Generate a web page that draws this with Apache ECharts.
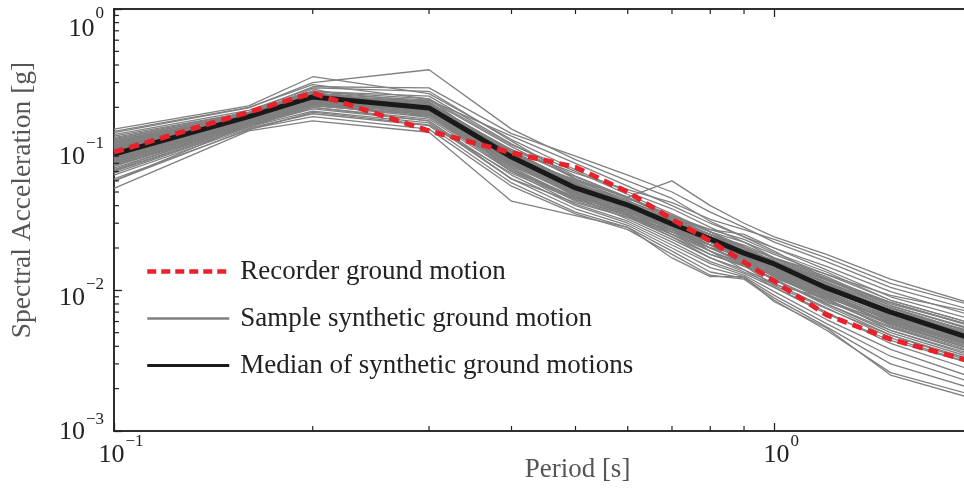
<!DOCTYPE html>
<html>
<head>
<meta charset="utf-8">
<script src="https://cdn.jsdelivr.net/npm/echarts@6/dist/echarts.min.js"></script>
<style>
  html, body { margin: 0; padding: 0; background: #fff; }
  #chart { width: 964px; height: 491px; }
</style>
</head>
<body>
<div id="chart"></div>
<script>
// periods (s)
var periods = [0.1, 0.16, 0.2, 0.3, 0.4, 0.5, 0.6, 0.7, 0.8, 0.9, 1.0, 1.2, 1.5, 2.0];

// recorded ground motion spectrum (g)
var recorded = [0.096, 0.185, 0.253, 0.136, 0.095, 0.075, 0.050, 0.032, 0.0224, 0.0159, 0.0116, 0.0067, 0.0045, 0.0031];

// median of synthetic motions (g)
var median = [0.093, 0.172, 0.237, 0.198, 0.0887, 0.0534, 0.0404, 0.0296, 0.0232, 0.0184, 0.0154, 0.0104, 0.0070, 0.0045];

// sample synthetic motions (g), read from the gray band
var samples = [
  [0.140, 0.205, 0.330, 0.250, 0.118, 0.072, 0.050, 0.038, 0.028, 0.022, 0.018, 0.013, 0.0085, 0.0058],
  [0.132, 0.198, 0.300, 0.370, 0.140, 0.085, 0.060, 0.045, 0.031, 0.024, 0.019, 0.012, 0.0075, 0.0050],
  [0.125, 0.185, 0.280, 0.275, 0.130, 0.090, 0.066, 0.050, 0.036, 0.028, 0.022, 0.016, 0.0105, 0.0072],
  [0.120, 0.180, 0.260, 0.240, 0.110, 0.065, 0.046, 0.060, 0.040, 0.030, 0.024, 0.018, 0.0120, 0.0080],
  [0.115, 0.176, 0.250, 0.225, 0.105, 0.062, 0.045, 0.034, 0.027, 0.025, 0.020, 0.0148, 0.0098, 0.0066],
  [0.110, 0.172, 0.245, 0.215, 0.098, 0.058, 0.043, 0.032, 0.025, 0.020, 0.016, 0.0118, 0.0082, 0.0055],
  [0.106, 0.170, 0.240, 0.205, 0.094, 0.056, 0.041, 0.031, 0.024, 0.019, 0.015, 0.0108, 0.0072, 0.0048],
  [0.102, 0.168, 0.236, 0.200, 0.090, 0.054, 0.040, 0.029, 0.022, 0.0175, 0.0145, 0.0100, 0.0068, 0.0046],
  [0.098, 0.165, 0.232, 0.196, 0.086, 0.052, 0.039, 0.030, 0.023, 0.018, 0.0158, 0.0112, 0.0070, 0.0044],
  [0.095, 0.163, 0.228, 0.190, 0.084, 0.050, 0.038, 0.028, 0.021, 0.017, 0.0140, 0.0095, 0.0062, 0.0041],
  [0.092, 0.160, 0.222, 0.185, 0.080, 0.048, 0.036, 0.027, 0.020, 0.016, 0.0135, 0.0090, 0.0058, 0.0039],
  [0.088, 0.158, 0.218, 0.180, 0.078, 0.047, 0.035, 0.026, 0.019, 0.0155, 0.0128, 0.0085, 0.0055, 0.0036],
  [0.085, 0.155, 0.212, 0.175, 0.075, 0.045, 0.034, 0.025, 0.018, 0.0148, 0.0120, 0.0080, 0.0050, 0.0033],
  [0.082, 0.153, 0.208, 0.170, 0.072, 0.043, 0.033, 0.024, 0.017, 0.014, 0.0112, 0.0075, 0.0046, 0.0030],
  [0.078, 0.150, 0.200, 0.165, 0.070, 0.041, 0.031, 0.022, 0.016, 0.0132, 0.0105, 0.0070, 0.0042, 0.0027],
  [0.074, 0.148, 0.195, 0.160, 0.066, 0.040, 0.030, 0.021, 0.0155, 0.0128, 0.0098, 0.0062, 0.0038, 0.0024],
  [0.070, 0.145, 0.188, 0.155, 0.062, 0.038, 0.029, 0.020, 0.0145, 0.0125, 0.0092, 0.0058, 0.0034, 0.0022],
  [0.066, 0.142, 0.180, 0.148, 0.058, 0.036, 0.028, 0.019, 0.0135, 0.0122, 0.0088, 0.0055, 0.0030, 0.0020],
  [0.060, 0.140, 0.172, 0.140, 0.055, 0.035, 0.027, 0.018, 0.0128, 0.0120, 0.0085, 0.0052, 0.0026, 0.0018],
  [0.053, 0.136, 0.160, 0.133, 0.043, 0.034, 0.028, 0.017, 0.0125, 0.0125, 0.0083, 0.0054, 0.0025, 0.0017],
  [0.135, 0.200, 0.290, 0.230, 0.085, 0.048, 0.034, 0.024, 0.018, 0.015, 0.012, 0.0078, 0.0048, 0.0032],
  [0.060, 0.150, 0.210, 0.225, 0.125, 0.080, 0.055, 0.040, 0.030, 0.024, 0.020, 0.0140, 0.0090, 0.0062],
  [0.072, 0.155, 0.230, 0.210, 0.100, 0.068, 0.052, 0.042, 0.032, 0.027, 0.023, 0.0170, 0.0112, 0.0078],
  [0.118, 0.182, 0.270, 0.180, 0.070, 0.045, 0.037, 0.030, 0.025, 0.021, 0.017, 0.0130, 0.0092, 0.0070],
  [0.100, 0.170, 0.250, 0.195, 0.092, 0.060, 0.044, 0.028, 0.019, 0.014, 0.0105, 0.0068, 0.0044, 0.0030],
  [0.090, 0.162, 0.225, 0.205, 0.096, 0.055, 0.038, 0.033, 0.026, 0.022, 0.0170, 0.0125, 0.0078, 0.0052],
  [0.080, 0.158, 0.215, 0.190, 0.082, 0.052, 0.042, 0.031, 0.022, 0.016, 0.0118, 0.0082, 0.0060, 0.0042],
  [0.112, 0.175, 0.238, 0.170, 0.076, 0.049, 0.035, 0.026, 0.021, 0.019, 0.0165, 0.0120, 0.0080, 0.0056],
  [0.097, 0.166, 0.245, 0.220, 0.088, 0.046, 0.032, 0.023, 0.017, 0.0135, 0.0110, 0.0088, 0.0064, 0.0047],
  [0.086, 0.160, 0.228, 0.185, 0.074, 0.044, 0.039, 0.029, 0.024, 0.020, 0.0150, 0.0098, 0.0056, 0.0037],
  [0.104, 0.172, 0.260, 0.230, 0.108, 0.070, 0.048, 0.035, 0.026, 0.020, 0.0148, 0.0105, 0.0066, 0.0043],
  [0.076, 0.150, 0.205, 0.178, 0.080, 0.050, 0.040, 0.032, 0.027, 0.023, 0.0185, 0.0135, 0.0085, 0.0058],
  [0.128, 0.190, 0.275, 0.260, 0.115, 0.062, 0.042, 0.030, 0.022, 0.017, 0.0130, 0.0088, 0.0052, 0.0034],
  [0.094, 0.164, 0.232, 0.200, 0.094, 0.057, 0.037, 0.025, 0.020, 0.018, 0.0160, 0.0115, 0.0076, 0.0050],
  [0.068, 0.145, 0.200, 0.160, 0.062, 0.042, 0.033, 0.027, 0.021, 0.017, 0.0138, 0.0100, 0.0072, 0.0051],
  [0.108, 0.174, 0.242, 0.188, 0.072, 0.046, 0.036, 0.027, 0.021, 0.0165, 0.0125, 0.0084, 0.0054, 0.0036],
  [0.084, 0.156, 0.220, 0.195, 0.100, 0.064, 0.045, 0.033, 0.023, 0.0175, 0.0135, 0.0094, 0.0061, 0.0040],
  [0.062, 0.138, 0.185, 0.150, 0.068, 0.044, 0.034, 0.026, 0.020, 0.0160, 0.0125, 0.0090, 0.0064, 0.0045],
  [0.116, 0.178, 0.255, 0.205, 0.090, 0.054, 0.041, 0.030, 0.021, 0.0150, 0.0108, 0.0074, 0.0048, 0.0031],
  [0.090, 0.165, 0.235, 0.195, 0.086, 0.051, 0.037, 0.028, 0.022, 0.0185, 0.0150, 0.0110, 0.0072, 0.0049],
  [0.105, 0.168, 0.228, 0.212, 0.092, 0.058, 0.042, 0.030, 0.024, 0.019, 0.0150, 0.0102, 0.0066, 0.0044],
  [0.099, 0.166, 0.240, 0.185, 0.080, 0.049, 0.038, 0.029, 0.023, 0.0190, 0.0162, 0.0118, 0.0078, 0.0053],
  [0.087, 0.160, 0.226, 0.208, 0.096, 0.059, 0.041, 0.028, 0.020, 0.0160, 0.0128, 0.0086, 0.0057, 0.0038],
  [0.113, 0.176, 0.252, 0.196, 0.084, 0.053, 0.040, 0.031, 0.025, 0.0200, 0.0155, 0.0108, 0.0068, 0.0045],
  [0.079, 0.154, 0.214, 0.182, 0.084, 0.054, 0.041, 0.032, 0.024, 0.0185, 0.0145, 0.0098, 0.0065, 0.0044],
  [0.093, 0.163, 0.230, 0.200, 0.088, 0.050, 0.035, 0.026, 0.021, 0.0175, 0.0140, 0.0102, 0.0070, 0.0047],
  [0.101, 0.169, 0.246, 0.210, 0.090, 0.056, 0.043, 0.033, 0.025, 0.0190, 0.0145, 0.0096, 0.0060, 0.0040],
  [0.071, 0.148, 0.206, 0.176, 0.078, 0.049, 0.037, 0.027, 0.020, 0.0160, 0.0130, 0.0093, 0.0063, 0.0043],
  [0.122, 0.184, 0.262, 0.218, 0.095, 0.057, 0.040, 0.029, 0.022, 0.0175, 0.0138, 0.0096, 0.0062, 0.0041],
  [0.089, 0.161, 0.222, 0.190, 0.090, 0.061, 0.046, 0.034, 0.026, 0.0205, 0.0160, 0.0112, 0.0072, 0.0048],
  [0.096, 0.164, 0.234, 0.203, 0.082, 0.047, 0.034, 0.025, 0.019, 0.0150, 0.0122, 0.0090, 0.0062, 0.0042],
  [0.083, 0.157, 0.218, 0.192, 0.086, 0.052, 0.039, 0.030, 0.024, 0.0195, 0.0158, 0.0114, 0.0074, 0.0050],
  [0.107, 0.171, 0.244, 0.198, 0.087, 0.051, 0.038, 0.028, 0.021, 0.0165, 0.0132, 0.0092, 0.0058, 0.0038],
  [0.077, 0.152, 0.210, 0.186, 0.088, 0.055, 0.040, 0.029, 0.022, 0.0172, 0.0142, 0.0104, 0.0070, 0.0048],
  [0.091, 0.162, 0.236, 0.215, 0.098, 0.058, 0.040, 0.028, 0.020, 0.0155, 0.0118, 0.0080, 0.0052, 0.0035],
  [0.103, 0.170, 0.238, 0.192, 0.082, 0.050, 0.039, 0.031, 0.025, 0.0205, 0.0168, 0.0122, 0.0082, 0.0056],
  [0.081, 0.156, 0.224, 0.202, 0.092, 0.054, 0.038, 0.027, 0.021, 0.0170, 0.0136, 0.0095, 0.0061, 0.0041],
  [0.111, 0.174, 0.248, 0.205, 0.093, 0.057, 0.042, 0.030, 0.023, 0.0180, 0.0142, 0.0098, 0.0064, 0.0042],
  [0.097, 0.167, 0.230, 0.188, 0.079, 0.048, 0.036, 0.028, 0.022, 0.0180, 0.0148, 0.0106, 0.0069, 0.0046],
  [0.086, 0.159, 0.220, 0.198, 0.094, 0.056, 0.039, 0.029, 0.022, 0.0168, 0.0130, 0.0090, 0.0059, 0.0040]
];

var xMin = 0.1, xMax = 2.0;
var yMin = 0.001, yMax = 1;

var FONT = '"Liberation Serif", "DejaVu Serif", serif';
var NAME_REC = 'Recorder ground motion';
var NAME_SAMPLE = 'Sample synthetic ground motion';
var NAME_MED = 'Median of synthetic ground motions';

function pairs(ys) {
    return periods.map(function (p, i) { return [p, ys[i]]; });
}

// decade exponent, or null when v is not a power of ten
function decade(v) {
    var e = Math.log(v) / Math.LN10;
    var n = Math.round(e);
    return Math.abs(e - n) > 1e-6 ? null : n;
}
function expText(n) {
    return n < 0 ? '\u2212' + (-n) : String(n);
}

function xLabel(v) {
    var n = decade(v);
    if (n === null) return '';
    return '{b|10}{s|' + expText(n) + '}';
}
// first and last y labels sit a little differently (as in the original)
function yLabel(v) {
    var n = decade(v);
    if (n === null) return '';
    var sfx = '';
    if (Math.abs(v - yMax) < 1e-9) sfx = 't';
    else if (Math.abs(v - yMin) < 1e-9) sfx = 'm';
    return '{b' + sfx + '|10}{s' + sfx + '|' + expText(n) + '}';
}

function baseStyle(pad) {
    return { fontFamily: FONT, fontSize: 26, color: '#222', lineHeight: 26, padding: pad };
}
function supStyle(pad) {
    return { fontFamily: FONT, fontSize: 17, color: '#222', lineHeight: 17, padding: pad };
}

// padding is used to shift base / exponent up and down
var richY = {
    b: baseStyle([16, 0, 0, 0]),
    s: supStyle([0, 0, 12, 1]),
    bt: baseStyle([40, 0, 0, 0]),
    st: supStyle([10, 0, 0, 1]),
    bm: baseStyle([2, 0, 0, 0]),
    sm: supStyle([0, 0, 22, 1])
};
var richX = {
    b: baseStyle([0, 0, 0, 0]),
    s: supStyle([0, 0, 26, 1])
};

var myChart = echarts.init(document.getElementById('chart'), null, { renderer: 'canvas' });

var series = [];
samples.forEach(function (s) {
    series.push({
        name: NAME_SAMPLE,
        type: 'line',
        data: pairs(s),
        symbol: 'none',
        silent: true,
        lineStyle: { color: '#808080', width: 1.3 },
        z: 2
    });
});
series.push({
    name: NAME_MED,
    type: 'line',
    data: pairs(median),
    symbol: 'none',
    lineStyle: { color: '#1a1a1a', width: 5 },
    z: 3
});
series.push({
    name: NAME_REC,
    type: 'line',
    data: pairs(recorded),
    symbol: 'none',
    lineStyle: { color: '#e8212a', width: 5, type: [10, 6] },
    z: 4
});

var option = {
    animation: false,
    backgroundColor: '#fff',
    grid: {
        left: 114,
        top: 9,
        bottom: 60,
        right: -9,
        containLabel: false,
        outerBoundsMode: 'none',
        show: true,
        borderColor: '#222',
        borderWidth: 1.5,
        backgroundColor: 'transparent'
    },
    legend: {
        orient: 'vertical',
        left: 145,
        top: 258,
        padding: 0,
        itemWidth: 82,
        itemHeight: 26,
        itemGap: 20,
        textStyle: { fontFamily: FONT, fontSize: 27, color: '#222', padding: [0, 0, 0, 6] },
        data: [
            { name: NAME_REC, itemStyle: { opacity: 0 }, lineStyle: { width: 4.5, type: [9, 5] } },
            { name: NAME_SAMPLE, itemStyle: { opacity: 0 }, lineStyle: { width: 2.5 } },
            { name: NAME_MED, itemStyle: { opacity: 0 }, lineStyle: { width: 3 } }
        ],
        selectedMode: false
    },
    xAxis: [{
        type: 'log',
        logBase: 10,
        min: xMin,
        max: xMax,
        name: 'Period [s]',
        nameLocation: 'middle',
        nameGap: 25,
        nameMoveOverlap: false,
        nameTextStyle: { fontFamily: FONT, fontSize: 27, color: '#555', padding: [0, 0, 0, 68] },
        axisLine: { show: true, onZero: false, lineStyle: { color: '#222', width: 1.5 } },
        axisTick: { show: true, inside: true, length: 8, lineStyle: { color: '#222', width: 1.3 } },
        axisLabel: { margin: 11, formatter: xLabel, rich: richX, padding: [0, 0, 0, 14] },
        splitLine: { show: false }
    }, {
        type: 'log',
        logBase: 10,
        min: xMin,
        max: xMax,
        position: 'top',
        axisLine: { show: true, onZero: false, lineStyle: { color: '#222', width: 1.5 } },
        axisTick: { show: true, inside: true, length: 8, lineStyle: { color: '#222', width: 1.3 } },
        axisLabel: { show: false },
        splitLine: { show: false }
    }],
    yAxis: {
        type: 'log',
        logBase: 10,
        min: yMin,
        max: yMax,
        name: 'Spectral Acceleration [g]',
        nameLocation: 'middle',
        nameGap: 77,
        nameTextStyle: { fontFamily: FONT, fontSize: 27.5, color: '#555', padding: [0, 0, 0, 40] },
        axisLine: { show: true, lineStyle: { color: '#222', width: 1.5 } },
        axisTick: { show: true, inside: true, length: 8, lineStyle: { color: '#222', width: 1.3 } },
        axisLabel: { margin: 10, formatter: yLabel, rich: richY },
        splitLine: { show: false }
    },
    series: series
};

myChart.setOption(option);

// minor log ticks (2..9 in each decade), placed through the axis scales
var gTop = myChart.convertToPixel({ yAxisIndex: 0 }, yMax);
var gBottom = myChart.convertToPixel({ yAxisIndex: 0 }, yMin);
var gLeft = myChart.convertToPixel({ xAxisIndex: 0 }, xMin);
var minor = [];
for (var d = -3; d < 0; d++) {
    for (var k = 2; k <= 9; k++) {
        var y = myChart.convertToPixel({ yAxisIndex: 0 }, k * Math.pow(10, d));
        minor.push({ type: 'line', silent: true, z: 10,
            shape: { x1: gLeft, y1: y, x2: gLeft + 5, y2: y },
            style: { stroke: '#222', lineWidth: 1.2 } });
    }
}
for (var d2 = -1; d2 <= 0; d2++) {
    for (var k2 = 2; k2 <= 9; k2++) {
        var v = k2 * Math.pow(10, d2);
        if (v > xMax) break;
        var x = myChart.convertToPixel({ xAxisIndex: 0 }, v);
        minor.push({ type: 'line', silent: true, z: 10,
            shape: { x1: x, y1: gBottom, x2: x, y2: gBottom - 5 },
            style: { stroke: '#222', lineWidth: 1.2 } });
        minor.push({ type: 'line', silent: true, z: 10,
            shape: { x1: x, y1: gTop, x2: x, y2: gTop + 5 },
            style: { stroke: '#222', lineWidth: 1.2 } });
    }
}
myChart.setOption({ graphic: minor });
</script>
</body>
</html>
